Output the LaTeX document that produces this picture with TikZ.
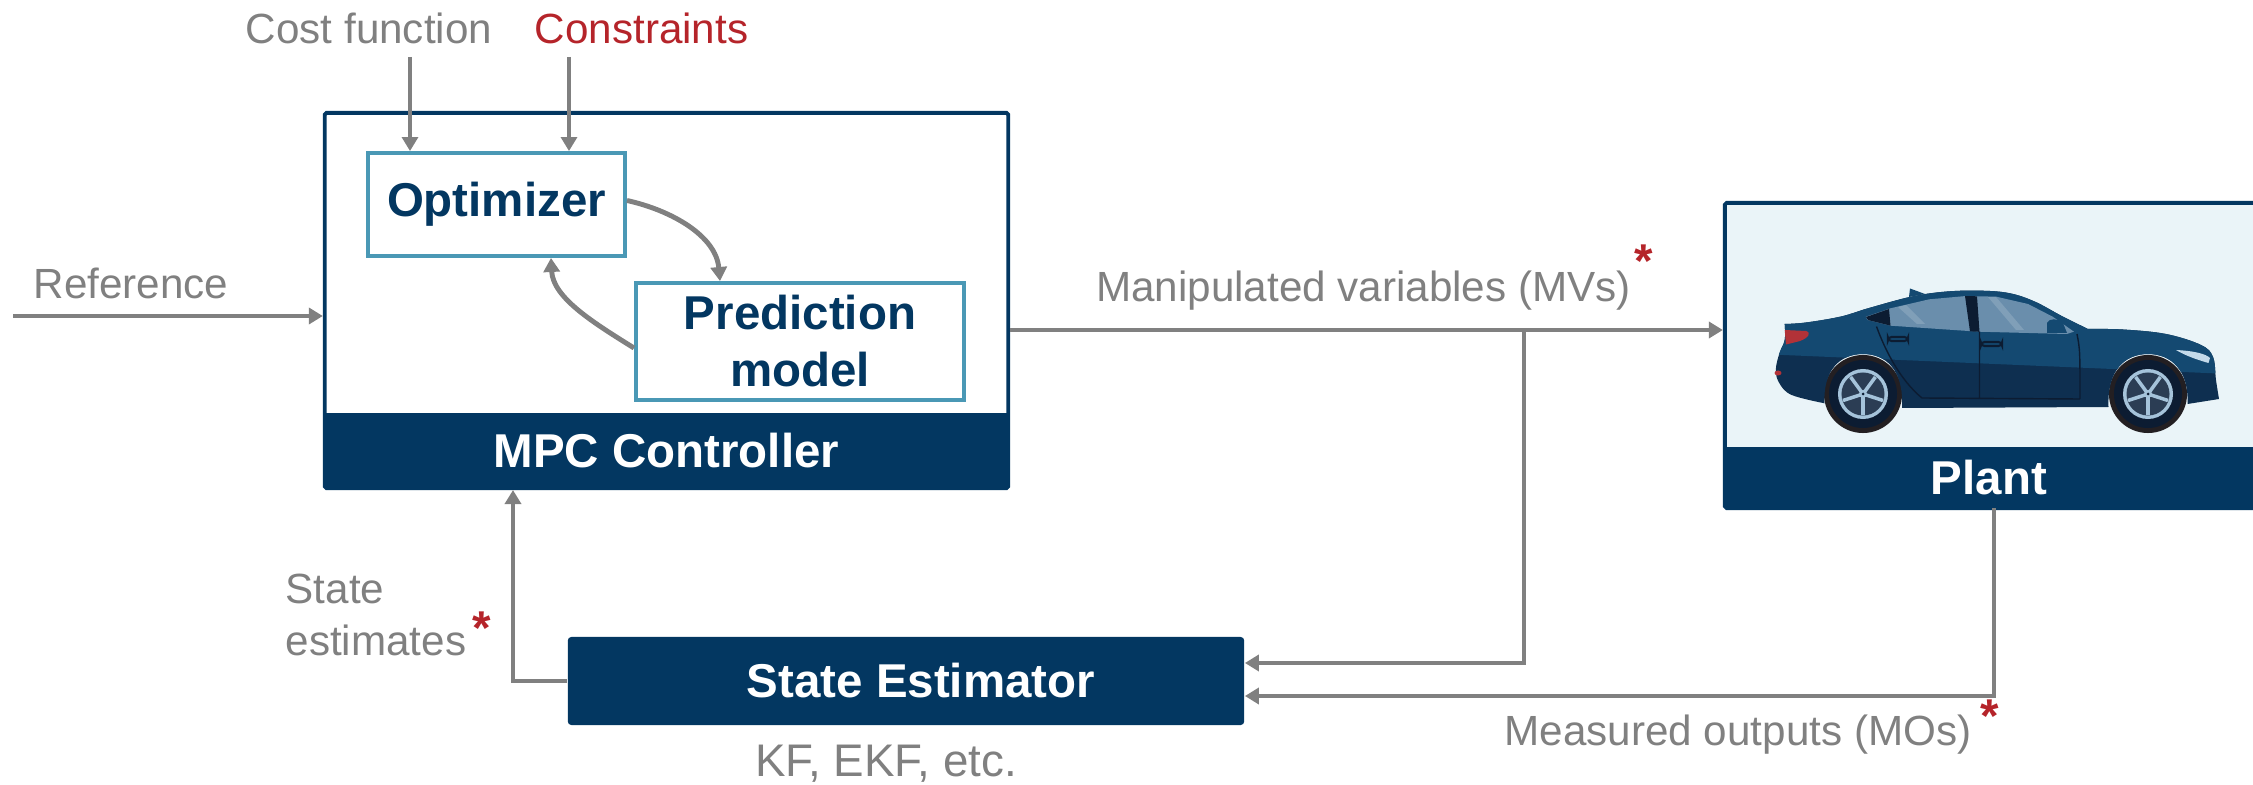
\documentclass[tikz,border=0pt]{standalone}
\usepackage{fontspec}
\setmainfont{Liberation Sans}
\usetikzlibrary{arrows.meta,calc,positioning}

\definecolor{mpcnavy}{RGB}{3,55,97}
\definecolor{mpcteal}{RGB}{74,152,181}
\definecolor{siggray}{RGB}{128,128,128}
\definecolor{sigred}{RGB}{181,36,42}
\definecolor{plantbg}{RGB}{234,244,248}
\definecolor{carbody}{RGB}{20,73,113}
\definecolor{carlow}{RGB}{14,47,80}
\definecolor{carglass}{RGB}{106,142,172}
\definecolor{cardark}{RGB}{12,28,50}
\definecolor{cararch}{RGB}{35,31,34}
\definecolor{carrim}{RGB}{165,195,218}
\definecolor{cartail}{RGB}{178,50,56}
\definecolor{carlamp}{RGB}{196,218,234}

\tikzset{
  blk/.style={draw=mpcnavy, line width=1.1pt, rounded corners=0.5pt, inner sep=0pt},
  bar/.style={fill=mpcnavy, text=white, inner sep=0pt, font=\bfseries\fontsize{13.5}{16.2}\selectfont},
  sub/.style={draw=mpcteal, line width=1.1pt, fill=white, text=mpcnavy, align=center, inner sep=0pt,
    font=\bfseries\fontsize{13.5}{16.2}\selectfont},
  sig/.style={draw=siggray, line width=1.25pt, -{Triangle[length=0.14cm,width=0.16cm]}},
  lbl/.style={text=siggray, inner sep=0pt, font=\fontsize{12}{14.8}\selectfont},
  star/.style={text=sigred, inner sep=0pt, font=\bfseries\fontsize{13.5}{13.5}\selectfont}
}

\begin{document}
\begin{tikzpicture}[x=0.01cm,y=-0.01cm]
  \useasboundingbox (0,0) rectangle (2253,785);
  \clip (0,0) rectangle (2253,785);

  % controller block
  \node[blk, fill=white, minimum width=6.83cm, minimum height=3.75cm] (mpc) at (666.5,300.5) {};
  \node[bar, minimum width=6.83cm, minimum height=0.75cm] (mpcbar) at (666.5,450.5) {MPC Controller};
  \node[sub, minimum width=2.57cm, minimum height=1.03cm] (opt) at (496.5,204.5) {Optimizer};
  \node[sub, minimum width=3.28cm, minimum height=1.17cm] (pred) at (800,341.5) {Prediction\\model};

  % plant block
  \node[blk, fill=plantbg, minimum width=6cm, minimum height=3.05cm] (plant) at (2025,355.5) {};
  \node[bar, minimum width=6cm, minimum height=0.61cm] (plantbar) at (2025,477.5) {};
  \node[bar, fill=none] (plantlbl) at (1989,478) {Plant};

  % the car
  \fill[cararch] (1863,394) circle[radius=0.39cm] (2148,394) circle[radius=0.39cm];
  \begin{scope}
    \clip (1784.7,324) -- plot[smooth, tension=0.6] coordinates {(1784.7,324) (1806,322.5) (1841,316.5) (1869,308) (1912,296.5) (1947,291.5) (1982,290.7) (2010,293.3) (2035,301.7) (2063,316.7) (2088,329)}
      -- plot[smooth, tension=0.6] coordinates {(2088,329) (2123,329.5) (2166,334) (2201,345) (2213,357) (2216,380) (2219,399)}
      -- (2187.5,404) .. controls (2189,370) and (2171,354) .. (2148,354) .. controls (2125,354) and (2107,370) .. (2108.5,407)
      -- (1902,408) .. controls (1904,370) and (1886,354) .. (1863,354) .. controls (1840,354) and (1823,370) .. (1824.5,403.3)
      -- plot[smooth, tension=0.6] coordinates {(1824.5,403.3) (1791.7,395) (1779.4,383.3) (1775.8,370) (1779.4,353.3) (1784.7,340) (1784.7,324)} -- cycle;
    \fill[carlow] (1760,280) rectangle (2230,420);
    \fill[carbody] (1760,280) -- (2230,280) -- (2230,374) -- (1760,354) -- cycle;
  \end{scope}
  \fill[carglass] (1865.8,316.7) -- (1890.5,308.3) -- (1929.3,299.3) -- (1966.3,296) -- (1996.3,296.7) -- (2028,304)
    -- (2052.7,316.7) -- (2073.9,331.7) -- (2066.8,334) -- (1978.7,331.7) -- (1890.5,325.7) -- (1867.5,320) -- cycle;
  \fill[carglass!70!white, opacity=0.5] (1898,307) -- (1906,305) -- (1925,324) -- (1917,324) -- cycle
    (1988,297) -- (1996,297) -- (2024,330) -- (2016,330) -- cycle;
  \fill[cardark] (1866,317) -- (1889,309) -- (1890.5,325.7) -- (1868,320) -- cycle;
  \fill[cardark] (1965,296) -- (1977,296.3) -- (1979.5,331.8) -- (1970,331.4) -- cycle;
  \fill[carbody] (2047,333) -- (2047,323) .. controls (2049,318) and (2058,318) .. (2063,323) -- (2067,333) -- cycle;
  \fill[carbody] (1909,297) -- (1910,288.5) -- (1925,294) -- cycle;
  \draw[cardark, line width=0.4pt] (1876.5,326.5) .. controls (1885,350) and (1900,380) .. (1922,398) -- (2080,399)
    (1979.5,332) -- (1979.5,399) (2077,334) .. controls (2080,350) .. (2080,399);
  \draw[cardark, line width=0.6pt, rounded corners=1pt] (1888,337) rectangle (1908,341) (1981,342) rectangle (2002,346);
  \fill[cartail] (1784.7,330) -- (1806,331) .. controls (1812,333) and (1808,338) .. (1800,341) -- (1786,344.5) -- cycle;
  \fill[cartail] (1778,373) ellipse[x radius=0.035cm, y radius=0.025cm];
  \fill[carlamp] (2176,350) .. controls (2195,351) and (2206,354) .. (2210,358) -- (2208.5,363) .. controls (2198,360) and (2186,356) .. cycle;
  \foreach \wx in {1863,2148}{
    \fill[cardark] (\wx,394) circle[radius=0.34cm];
    \fill[carrim] (\wx,394) circle[radius=0.25cm];
    \fill[cardark!80!carrim] (\wx,394) circle[radius=0.215cm];
    \foreach \a in {90,162,234,306,378}
      \draw[carrim, line width=1pt] (\wx,394) -- ++(\a:21);
    \fill[carrim] (\wx,394) circle[radius=0.04cm];
    \fill[cardark] (\wx,394) circle[radius=0.015cm];
  }

  % estimator block
  \node[bar, rounded corners=1pt, minimum width=6.76cm, minimum height=0.88cm] (est) at (906,681) {};
  \node[bar, fill=none] (estlbl) at (921,681) {State Estimator};
  \node[lbl, font=\fontsize{13}{15.6}\selectfont] (kf) at (886,764) {KF, EKF, etc.};

  % signal names
  \node[lbl] (cost) at (369,28) {Cost function};
  \node[lbl, text=sigred] (cons) at (641.5,28) {Constraints};
  \node[lbl] (ref) at (131,283) {Reference};
  \node[lbl] (mvlbl) at (1363.5,291) {Manipulated variables (MVs)};
  \node[star] (mvstar) at (1644,261) {*};
  \node[lbl, align=left, anchor=west] (selbl) at (285,615) {State\\estimates};
  \node[star] (sestar) at (482,628) {*};
  \node[lbl] (molbl) at (1738,735) {Measured outputs (MOs)};
  \node[star] (mostar) at (1990,716) {*};

  % signals
  \coordinate (costin) at (410,57);
  \coordinate (consin) at (569,57);
  \coordinate (refin) at (13,316);
  \coordinate (mvtap) at (1524,330);
  \coordinate (motap) at (1994,508);
  \coordinate (setap) at (513,681);
  \draw[sig, line width=0.9pt] (costin) -- (costin |- opt.north);
  \draw[sig, line width=0.9pt] (consin) -- (consin |- opt.north);
  \draw[sig] (refin) -- (refin -| mpc.west);
  \draw[sig, line width=1.4pt] ([yshift=0.04cm]opt.east) .. controls +(45,10) and +(-4,-45) .. ($(pred.north west)+(86,0)$);
  \draw[sig, line width=1.4pt] ([yshift=-0.065cm]pred.west) .. controls +(-40,-25) and +(2,40) .. ($(opt.south west)+(185,0)$);
  \draw[sig] (mvtap -| mpc.east) -- (mvtap -| plant.west);
  \draw[sig] (mvtap) |- ([yshift=0.18cm]est.east);
  \draw[sig] (motap) |- ([yshift=-0.15cm]est.east);
  \draw[sig] (est.west) -| (setap |- mpc.south);
\end{tikzpicture}
\end{document}
